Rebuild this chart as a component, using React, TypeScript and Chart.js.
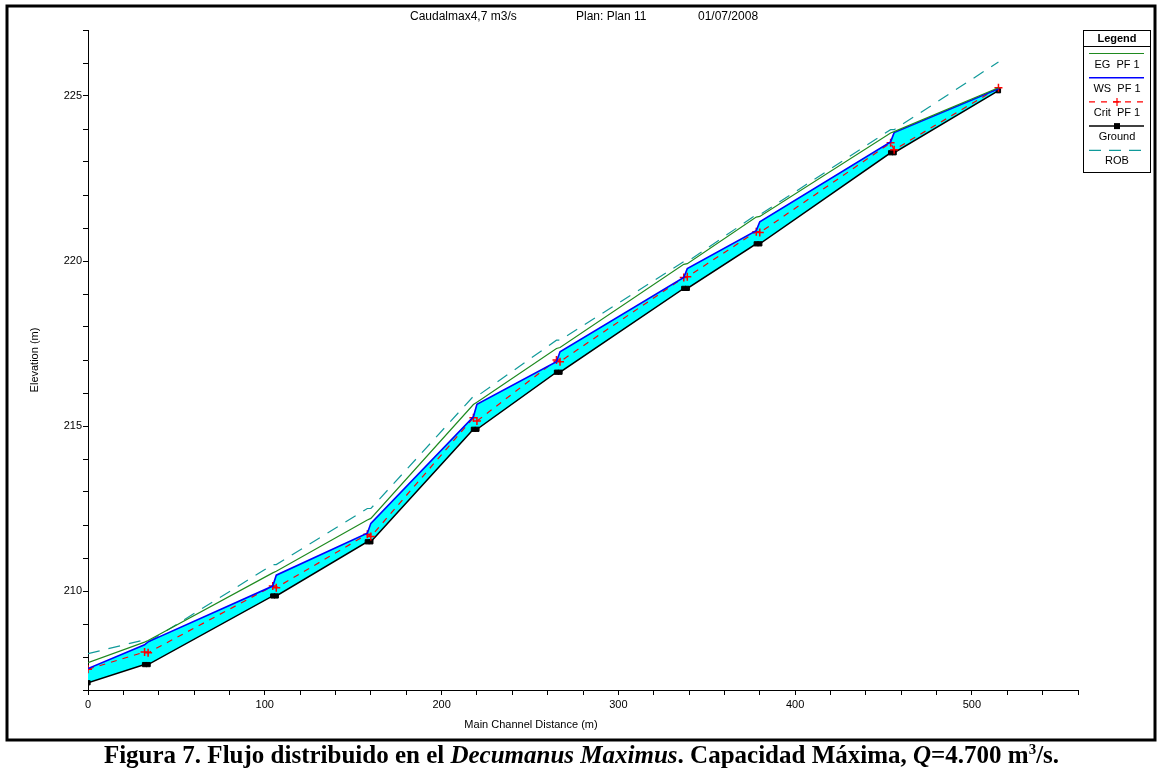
import React, { useEffect, useRef } from 'react';
import { Chart, registerables } from 'chart.js';

Chart.register(...registerables);

// Main channel distance (m) — each drop structure has a downstream / upstream pair
const distances = [0, 32, 34, 104.5, 106.5, 158, 160, 218, 220, 265, 267, 337, 339, 378, 380, 454, 456, 515];
const groundElev = [207.22, 207.77, 207.77, 209.85, 209.85, 211.49, 211.49, 214.9, 214.9, 216.63, 216.63, 219.17, 219.17, 220.52, 220.52, 223.28, 223.28, 225.16];
const wsElev = [207.65, 208.37, 208.46, 210.15, 210.48, 211.75, 212.05, 215.28, 215.66, 216.95, 217.25, 219.5, 219.77, 220.92, 221.19, 223.61, 223.89, 225.22];
const critElev = [207.63, 208.15, 208.13, 210.15, 210.1, 211.72, 211.65, 215.25, 215.15, 217.0, 216.95, 219.5, 219.52, 220.89, 220.86, 223.58, 223.37, 225.25];
const egElev = [207.83, 208.45, 208.5, 210.55, 210.6, 212.15, 212.2, 215.65, 215.72, 217.35, 217.38, 219.9, 219.92, 221.33, 221.35, 223.88, 223.92, 225.25];
const robElev = [208.1, 208.52, 208.45, 210.8, 210.8, 212.5, 212.5, 215.9, 215.9, 217.6, 217.6, 219.98, 219.98, 221.4, 221.4, 223.98, 223.98, 226.03];

const xLabelEvery = 100;
const yLabelEvery = 5;

const titleParts = ['Caudalmax4,7 m3/s', 'Plan: Plan 11', '01/07/2008'];
const legendLabels = ['EG  PF 1', 'WS  PF 1', 'Crit  PF 1', 'Ground', 'ROB'];

const GREEN = '#1f8a1f';
const BLUE = '#0000ff';
const RED = '#ff0000';
const BLACK = '#000000';
const TEAL = '#109a9a';
const CYAN = '#00ffff';
const SANS = '"Liberation Sans", Arial, sans-serif';

const toPts = (ys: number[]) => distances.map((x, i) => ({ x, y: ys[i] }));

const decorPlugin = {
  id: 'decor',
  afterDraw(chart: any) {
    const ctx = chart.ctx as CanvasRenderingContext2D;
    ctx.save();
    // outer frame
    ctx.strokeStyle = BLACK;
    ctx.lineWidth = 3;
    ctx.strokeRect(7, 6, 1148, 734);

    // title
    ctx.fillStyle = BLACK;
    ctx.font = '12px ' + SANS;
    ctx.textBaseline = 'middle';
    ctx.textAlign = 'left';
    ctx.fillText(titleParts[0], 410, 17);
    ctx.fillText(titleParts[1], 576, 17);
    ctx.fillText(titleParts[2], 698, 17);

    // axis titles
    ctx.font = '11px ' + SANS;
    ctx.textAlign = 'center';
    ctx.fillText('Main Channel Distance (m)', 531, 725);
    ctx.save();
    ctx.translate(35, 360);
    ctx.rotate(-Math.PI / 2);
    ctx.fillText('Elevation (m)', 0, 0);
    ctx.restore();

    // legend
    ctx.lineWidth = 1;
    ctx.strokeStyle = BLACK;
    ctx.fillStyle = '#ffffff';
    ctx.fillRect(1083.5, 30.5, 67, 142);
    ctx.strokeRect(1083.5, 30.5, 67, 142);
    ctx.beginPath();
    ctx.moveTo(1083.5, 46.5);
    ctx.lineTo(1150.5, 46.5);
    ctx.stroke();
    ctx.fillStyle = BLACK;
    ctx.font = 'bold 11px ' + SANS;
    ctx.fillText('Legend', 1117, 38.5);

    const styles = [
      { c: GREEN, d: [] as number[], w: 1.2, m: '' },
      { c: BLUE, d: [] as number[], w: 1.5, m: '' },
      { c: RED, d: [6, 6], w: 1.2, m: 'cross' },
      { c: BLACK, d: [] as number[], w: 1.5, m: 'rect' },
      { c: TEAL, d: [12, 8], w: 1.2, m: '' },
    ];
    ctx.font = '11px ' + SANS;
    styles.forEach((s, i) => {
      const ly = 53.5 + i * 24.2;
      ctx.strokeStyle = s.c;
      ctx.lineWidth = s.w;
      ctx.setLineDash(s.d);
      ctx.beginPath();
      ctx.moveTo(1089, ly);
      ctx.lineTo(1144, ly);
      ctx.stroke();
      ctx.setLineDash([]);
      if (s.m === 'cross') {
        ctx.beginPath();
        ctx.moveTo(1113, ly); ctx.lineTo(1121, ly);
        ctx.moveTo(1117, ly - 4); ctx.lineTo(1117, ly + 4);
        ctx.stroke();
      } else if (s.m === 'rect') {
        ctx.fillStyle = BLACK;
        ctx.fillRect(1114, ly - 3, 6, 6);
      }
      ctx.fillStyle = BLACK;
      ctx.fillText(legendLabels[i], 1117, ly + 11);
    });
    ctx.restore();
  },
};

export default function App() {
  const ref = useRef<HTMLCanvasElement | null>(null);

  useEffect(() => {
    if (!ref.current) return;
    const chart = new Chart(ref.current, {
      type: 'line',
      data: {
        datasets: [
          {
            label: legendLabels[0],
            data: toPts(egElev),
            borderColor: GREEN,
            borderWidth: 1.2,
            pointRadius: 0,
            fill: false,
          },
          {
            label: legendLabels[1],
            data: toPts(wsElev),
            borderColor: BLUE,
            borderWidth: 1.6,
            pointRadius: 0,
            backgroundColor: CYAN,
            fill: { target: 3 },
          },
          {
            label: legendLabels[2],
            data: toPts(critElev),
            borderColor: RED,
            borderWidth: 1.2,
            borderDash: [6, 6],
            pointStyle: 'cross',
            pointRadius: 4,
            pointBorderColor: RED,
            pointBorderWidth: 1.5,
            fill: false,
          },
          {
            label: legendLabels[3],
            data: toPts(groundElev),
            borderColor: BLACK,
            borderWidth: 1.5,
            pointStyle: 'rect',
            pointRadius: 3,
            pointBackgroundColor: BLACK,
            pointBorderColor: BLACK,
            pointBorderWidth: 1,
            fill: false,
          },
          {
            label: legendLabels[4],
            data: toPts(robElev),
            borderColor: TEAL,
            borderWidth: 1.2,
            borderDash: [12, 9],
            pointRadius: 0,
            fill: false,
          },
        ],
      },
      options: {
        responsive: false,
        animation: false,
        events: [],
        layout: { padding: { left: 28, right: 85, top: 30, bottom: 5 } },
        plugins: {
          legend: { display: false },
          title: { display: false },
          tooltip: { enabled: false },
          filler: { drawTime: 'beforeDatasetsDraw' },
        },
        elements: { line: { tension: 0 } },
        scales: {
          x: {
            type: 'linear',
            min: 0,
            max: 560,
            afterFit: (s: any) => { s.height = 50; },
            grid: { display: true, drawOnChartArea: false, drawTicks: true, tickLength: 5, color: BLACK },
            border: { display: true, color: BLACK, width: 1 },
            ticks: {
              stepSize: 20,
              autoSkip: false,
              maxRotation: 0,
              padding: 3,
              color: BLACK,
              font: { family: SANS, size: 11 },
              callback: (v: any) => (Number(v) % xLabelEvery === 0 ? String(v) : ''),
            },
          },
          y: {
            type: 'linear',
            min: 207,
            max: 227,
            afterFit: (s: any) => { s.width = 60; },
            grid: { display: true, drawOnChartArea: false, drawTicks: true, tickLength: 5, color: BLACK },
            border: { display: true, color: BLACK, width: 1 },
            ticks: {
              stepSize: 1,
              autoSkip: false,
              padding: 1,
              color: BLACK,
              font: { family: SANS, size: 11 },
              callback: (v: any) => (Number(v) % yLabelEvery === 0 ? String(v) : ''),
            },
          },
        },
      },
      plugins: [decorPlugin],
    } as any);
    return () => chart.destroy();
  }, []);

  return (
    <div style={{ position: 'absolute', left: 0, top: 0, width: 1163, height: 769, background: '#fff', overflow: 'hidden' }}>
      <canvas ref={ref} width={1163} height={745} style={{ position: 'absolute', left: 0, top: 0, width: 1163, height: 745 }} />
      <div
        style={{
          position: 'absolute',
          left: 0,
          top: 742,
          width: 1163,
          textAlign: 'center',
          fontFamily: '"Liberation Serif", "Times New Roman", serif',
          fontWeight: 'bold',
          fontSize: 25,
          lineHeight: '26px',
          color: '#000',
          whiteSpace: 'nowrap',
        }}
      >
        Figura 7. Flujo distribuido en el <i>Decumanus Maximus</i>. Capacidad Máxima, <i>Q</i>=4.700 m<sup style={{ fontSize: 15, lineHeight: 0 }}>3</sup>/s.
      </div>
    </div>
  );
}
